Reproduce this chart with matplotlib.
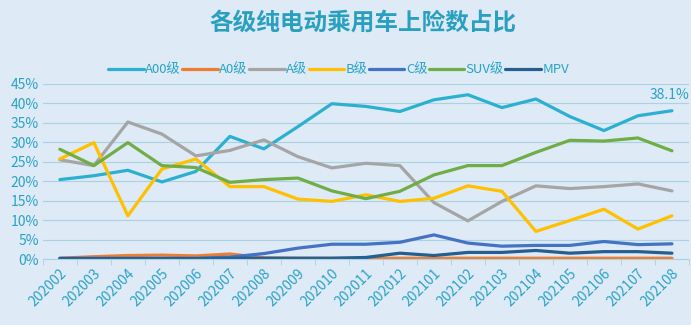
import numpy as np
import matplotlib
matplotlib.use("Agg")
import matplotlib.pyplot as plt
from matplotlib.ticker import FuncFormatter

plt.rcParams['font.family'] = ['Noto Sans CJK SC', 'DejaVu Sans']

months = ['202002', '202003', '202004', '202005', '202006', '202007', '202008',
          '202009', '202010', '202011', '202012', '202101', '202102', '202103',
          '202104', '202105', '202106', '202107', '202108']

# share of insured registrations per class, %
a00 = [20.4, 21.4, 22.8, 19.8, 22.5, 31.5, 28.3, 34.0, 39.9, 39.2, 37.9, 40.9,
       42.2, 38.9, 41.1, 36.6, 33.0, 36.8, 38.1]
a0 = [0.2, 0.6, 0.9, 1.0, 0.8, 1.3, 0.3, 0.2, 0.2, 0.2, 0.2, 0.2, 0.2, 0.2,
      0.2, 0.2, 0.2, 0.2, 0.2]
a = [25.5, 24.0, 35.2, 32.1, 26.5, 27.9, 30.6, 26.3, 23.4, 24.6, 24.0, 14.5,
     9.8, 14.8, 18.8, 18.1, 18.6, 19.3, 17.5]
b = [25.7, 29.9, 11.1, 23.1, 25.7, 18.6, 18.6, 15.4, 14.8, 16.5, 14.8, 15.6,
     18.8, 17.4, 7.1, 9.9, 12.8, 7.7, 11.1]
c = [0.2, 0.2, 0.2, 0.2, 0.2, 0.5, 1.4, 2.8, 3.8, 3.8, 4.3, 6.2, 4.1, 3.3,
     3.5, 3.5, 4.5, 3.7, 3.9]
suv = [28.2, 24.0, 29.9, 24.0, 23.5, 19.7, 20.4, 20.8, 17.5, 15.5, 17.4, 21.6,
       24.0, 24.0, 27.4, 30.5, 30.3, 31.1, 27.8]
mpv = [0.1, 0.1, 0.1, 0.1, 0.1, 0.2, 0.2, 0.2, 0.2, 0.4, 1.5, 0.9, 1.7, 1.7,
       2.2, 1.5, 1.9, 1.9, 1.5]

series = [('A00级', a00, '#2cb0d2'), ('A0级', a0, '#ed7d31'),
          ('A级', a, '#a5a5a5'), ('B级', b, '#ffc000'),
          ('C级', c, '#4472c4'), ('SUV级', suv, '#70ad47'),
          ('MPV', mpv, '#255e91')]

bg = '#deeaf6'
txt = '#2aa3c6'

fig = plt.figure(figsize=(6.91, 3.25), dpi=100, facecolor=bg)
ax = fig.add_axes([0.062, 0.203, 0.935, 0.539], facecolor=bg)

x = np.arange(len(months))
for name, vals, col in series:
    ax.plot(x, vals, color=col, lw=2.3, label=name, solid_capstyle='round')

ax.set_xlim(-0.5, len(months) - 0.5)
ax.set_ylim(0, 45)
ax.set_yticks(np.arange(0, 46, 5))
ax.yaxis.set_major_formatter(FuncFormatter(lambda v, p: f'{v:.0f}%'))
ax.grid(axis='y', color='#a8d3e3', lw=0.8)
ax.set_axisbelow(True)

ax.set_xticks(x)
ax.set_xticklabels(months, rotation=45, ha='right', rotation_mode='anchor')
ax.set_xticks(np.arange(-0.5, len(months), 1), minor=True)
ax.tick_params(axis='x', which='major', length=0, pad=5, labelsize=10, labelcolor=txt)
ax.tick_params(axis='x', which='minor', length=4, color='#a8d3e3')
ax.tick_params(axis='y', length=0, labelsize=10, labelcolor=txt, pad=3)

for s in ['top', 'right', 'left']:
    ax.spines[s].set_visible(False)
ax.spines['bottom'].set_color('#a8d3e3')

ax.annotate(f'{a00[-1]:.1f}%', (x[-1], a00[-1]), xytext=(-2, 6),
            textcoords='offset points', ha='center', va='bottom',
            color=txt, fontsize=10)

fig.text(0.525, 0.93, '各级纯电动乘用车上险数占比', ha='center', va='center',
         fontsize=17, fontweight='bold', color='#2aa0c0')

fig.legend(loc='center', bbox_to_anchor=(0.49, 0.785), ncol=7, frameon=False,
           handlelength=2.7, handletextpad=0.1, columnspacing=0.1,
           fontsize=9.5, labelcolor=txt)

fig.savefig('out.png', dpi=100, facecolor=bg)
